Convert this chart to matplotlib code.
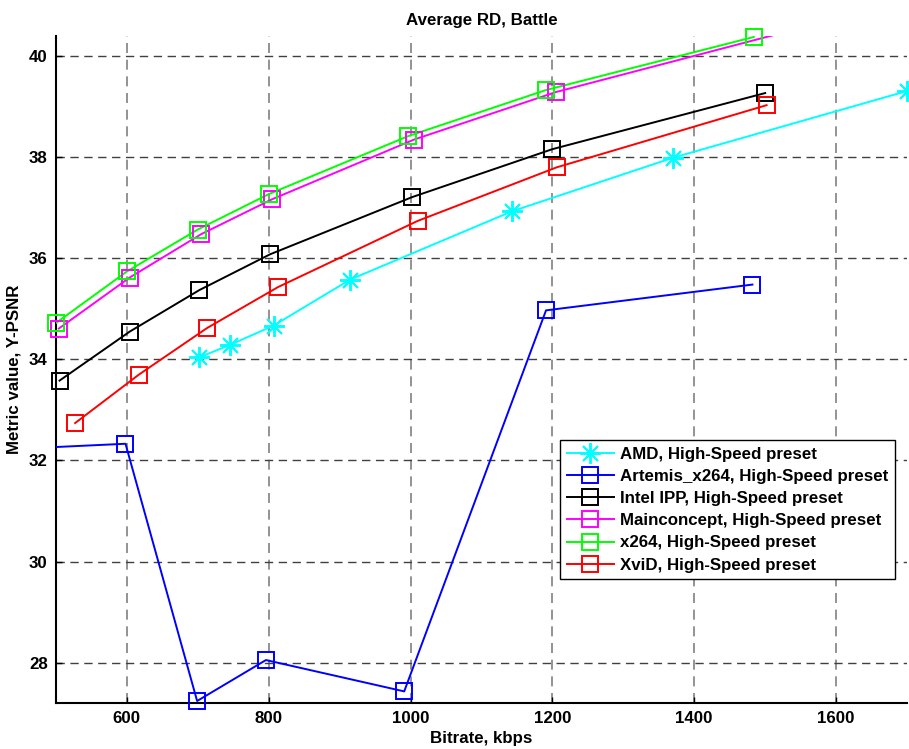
import matplotlib
matplotlib.use("Agg")
import matplotlib.pyplot as plt

plt.rcParams['font.family'] = ['Liberation Sans', 'DejaVu Sans']
plt.rcParams['font.weight'] = 'bold'

# bitrate (kbps) / Y-PSNR per codec
amd_x = [702, 746, 807, 915, 1143, 1370, 1700]
amd_y = [34.04, 34.29, 34.67, 35.58, 36.93, 37.99, 39.31]

artemis_x = [400, 598, 699, 796, 991, 1191, 1482]
artemis_y = [32.20, 32.33, 27.24, 28.05, 27.43, 34.97, 35.48]

intel_x = [505, 604, 702, 802, 1002, 1200, 1500]
intel_y = [33.58, 34.55, 35.37, 36.08, 37.21, 38.16, 39.27]

mainc_x = [504, 604, 705, 805, 1005, 1205, 1540]
mainc_y = [34.61, 35.62, 36.48, 37.17, 38.35, 39.29, 40.52]

x264_x = [500, 600, 700, 800, 997, 1191, 1484]
x264_y = [34.72, 35.74, 36.57, 37.27, 38.42, 39.33, 40.38]

xvid_x = [527, 617, 713, 813, 1010, 1206, 1502]
xvid_y = [32.74, 33.70, 34.62, 35.43, 36.74, 37.80, 39.03]

labels = ['AMD, High-Speed preset', 'Artemis_x264, High-Speed preset',
          'Intel IPP, High-Speed preset', 'Mainconcept, High-Speed preset',
          'x264, High-Speed preset', 'XviD, High-Speed preset']

x_ticks = [600, 800, 1000, 1200, 1400, 1600]
y_ticks = [28, 30, 32, 34, 36, 38, 40]
XLIM = (500, 1700)
YLIM = (27.2, 40.4)
FS = 12.2

fig = plt.figure(figsize=(9.09, 7.49), dpi=100)
ax = fig.add_axes([0.0616, 0.0614, 0.9362, 0.8906])

series = [
    (amd_x, amd_y, '#00ffff', (8, 2, 0), 15),
    (artemis_x, artemis_y, '#0000ff', 's', 11),
    (intel_x, intel_y, '#000000', 's', 11),
    (mainc_x, mainc_y, '#ff00ff', 's', 11),
    (x264_x, x264_y, '#00ff00', 's', 11),
    (xvid_x, xvid_y, '#ff0000', 's', 11),
]

handles = []
for (xs, ys, col, mk, ms), lab in zip(series, labels):
    # line is clipped to the axes
    ax.plot(xs, ys, color=col, lw=1.4, zorder=3)
    # markers: like MATLAB, skip points outside the limits, don't clip the rest
    keep = [i for i, (a, b) in enumerate(zip(xs, ys))
            if XLIM[0] <= a <= XLIM[1] and YLIM[0] <= b <= YLIM[1]]
    ax.plot([xs[i] for i in keep], [ys[i] for i in keep], linestyle='none',
            marker=mk, markersize=ms, markerfacecolor='none',
            markeredgecolor=col, markeredgewidth=1.4, clip_on=False, zorder=4)
    h, = ax.plot([], [], color=col, lw=1.4, marker=mk, markersize=ms,
                 markerfacecolor='none', markeredgecolor=col,
                 markeredgewidth=1.4, label=lab)
    handles.append(h)

ax.set_xlim(*XLIM)
ax.set_ylim(*YLIM)
ax.set_xticks(x_ticks)
ax.set_yticks(y_ticks)

ax.grid(True, axis='y', color='0.25', linestyle=(0, (6, 4)), lw=1.0)
ax.grid(True, axis='x', color='0.5', linestyle=(0, (6, 4)), lw=1.2)
ax.set_axisbelow(True)

for s in ['top', 'right']:
    ax.spines[s].set_visible(False)
for s in ['left', 'bottom']:
    ax.spines[s].set_linewidth(1.5)

ax.tick_params(direction='in', length=4, width=1, labelsize=FS, pad=6)
for t in ax.get_xticklabels() + ax.get_yticklabels():
    t.set_fontweight('bold')

ax.set_title('Average RD, Battle', fontsize=FS, fontweight='bold', pad=8)
ax.set_xlabel('Bitrate, kbps', fontsize=FS, fontweight='bold', labelpad=3)
ax.set_ylabel('Metric value, Y-PSNR', fontsize=FS, fontweight='bold', labelpad=5)

leg = ax.legend(handles=handles, loc='upper right', bbox_to_anchor=(0.986, 0.394),
                borderaxespad=0, numpoints=1, fancybox=False, framealpha=1,
                edgecolor='black', fontsize=FS, handlelength=2.8,
                handletextpad=0.35, labelspacing=0.42, borderpad=0.4)
leg.get_frame().set_linewidth(1.0)
for t in leg.get_texts():
    t.set_fontweight('bold')

fig.savefig('out.png', dpi=100)
